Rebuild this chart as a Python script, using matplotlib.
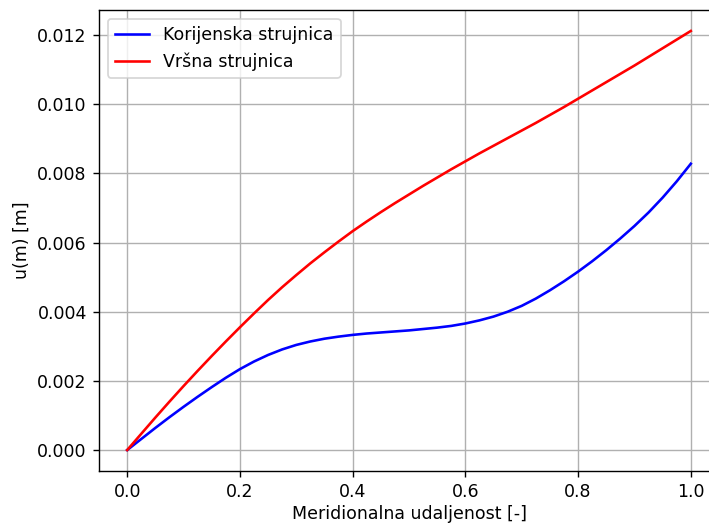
import matplotlib
matplotlib.use('Agg')
import matplotlib.pyplot as plt

# meridional distance, step 0.025
m = [0.0, 0.025, 0.05, 0.075, 0.1, 0.125, 0.15, 0.175, 0.2, 0.225,
     0.25, 0.275, 0.3, 0.325, 0.35, 0.375, 0.4, 0.425, 0.45, 0.475,
     0.5, 0.525, 0.55, 0.575, 0.6, 0.625, 0.65, 0.675, 0.7, 0.725,
     0.75, 0.775, 0.8, 0.825, 0.85, 0.875, 0.9, 0.925, 0.95, 0.975, 1.0]

# root streamline
u_root = [0.0, 0.00032, 0.00064, 0.00095, 0.00125, 0.00154, 0.00182, 0.00209, 0.00234,
          0.00256, 0.00275, 0.00291, 0.00304, 0.00314, 0.00322, 0.00328, 0.00333,
          0.00337, 0.0034, 0.00343, 0.00346, 0.0035, 0.00354, 0.00359, 0.00366,
          0.00375, 0.00386, 0.004, 0.00417, 0.00438, 0.00462, 0.00488, 0.00516,
          0.00546, 0.00578, 0.00612, 0.00648, 0.00687, 0.0073, 0.00777, 0.00828]

# tip streamline
u_tip = [0.0, 0.00047, 0.00094, 0.0014, 0.00185, 0.00229, 0.00272, 0.00314, 0.00355,
         0.00395, 0.00434, 0.00471, 0.00506, 0.0054, 0.00572, 0.00603, 0.00633,
         0.00661, 0.00688, 0.00714, 0.00739, 0.00764, 0.00788, 0.00812, 0.00835,
         0.00858, 0.0088, 0.00902, 0.00924, 0.00946, 0.00969, 0.00992, 0.01016,
         0.0104, 0.01064, 0.01088, 0.01112, 0.01137, 0.01162, 0.01187, 0.01212]

dpi = 125
fig, ax = plt.subplots(figsize=(709 / dpi, 524 / dpi), dpi=dpi)
fig.subplots_adjust(left=99 / 709, right=719 / 709, bottom=1 - 471 / 524, top=1 - 10 / 524)

ax.plot(m, u_root, color='blue', label='Korijenska strujnica')
ax.plot(m, u_tip, color='red', label='Vršna strujnica')
ax.set_xlabel('Meridionalna udaljenost [-]', labelpad=2)
ax.set_ylabel('u(m) [m]')
ax.grid(True)
ax.legend(loc='upper left')

fig.savefig('out.png', dpi=dpi)
